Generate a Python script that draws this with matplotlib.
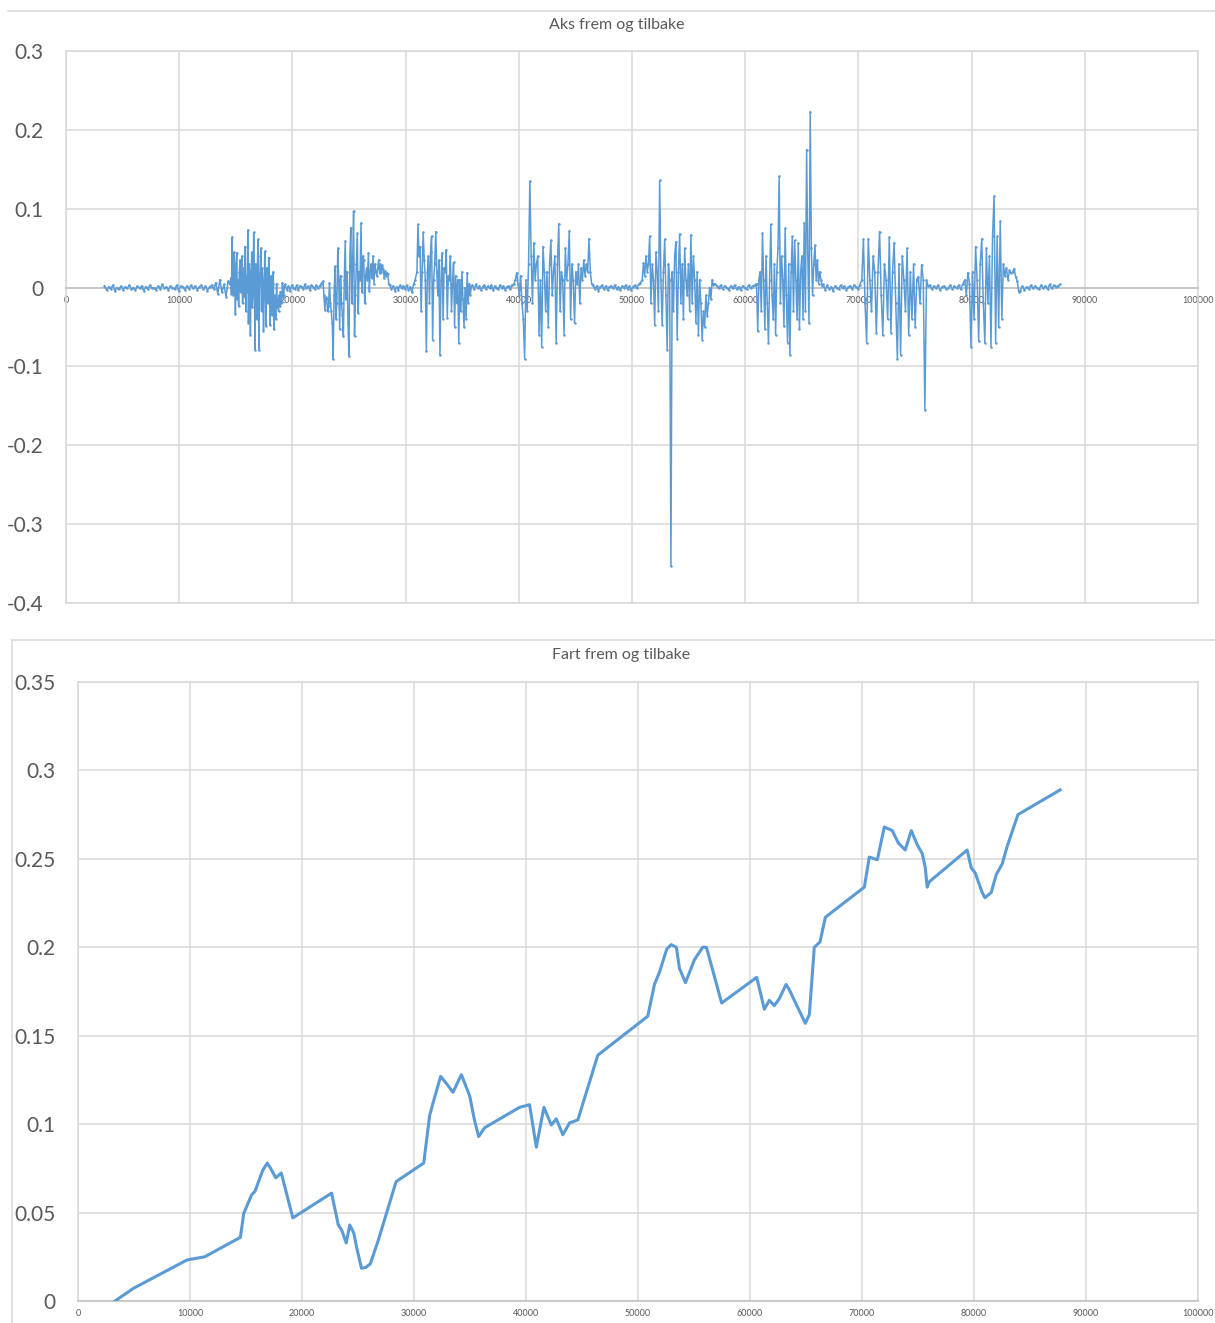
import numpy as np
import matplotlib
matplotlib.use("Agg")
import matplotlib.pyplot as plt
from matplotlib.lines import Line2D

# ---------------------------------------------------------------
# Acceleration (forward / backward), recorded in segments:
# each segment is (start time, end time) with its samples in order.
# ---------------------------------------------------------------
rest1_span = (3400, 14500)
rest1_acc = [0.002, -0.003, 0.001, -0.002, 0.003, -0.004, 0.000, -0.002, 0.002, -0.003,
             0.001, -0.001, 0.003, -0.002, 0.000, -0.003, 0.002, -0.001, 0.002, -0.004,
             0.001, -0.002, 0.003, -0.001, 0.000, -0.003, 0.002, -0.002, 0.004, -0.001,
             0.001, -0.003, 0.002, 0.000, -0.002, 0.003, -0.004, 0.002, 0.001, -0.003,
             0.002, -0.002, 0.003, -0.001, 0.002, -0.003, 0.001, 0.003, -0.002, 0.002,
             -0.004, 0.001, 0.003, -0.002, 0.006, -0.008, 0.010, -0.006, 0.004, -0.012,
             0.008]

push1_span = (14500, 19350)
push1_acc = [0.004, 0.012, -0.008, 0.064, 0.020, -0.010, 0.045, 0.030, -0.034, 0.010,
             0.044, -0.015, 0.010, -0.024, 0.020, 0.035, -0.006, 0.025, 0.040, -0.020,
             0.005, 0.025, -0.012, 0.052, -0.030, 0.015, -0.005, 0.073, -0.045, 0.030,
             0.020, -0.060, 0.010, 0.045, -0.025, -0.010, 0.070, 0.015, -0.079, 0.030,
             -0.020, -0.040, 0.040, 0.061, -0.079, 0.005, 0.020, 0.050, -0.030, 0.025,
             0.010, -0.055, -0.015, 0.046, 0.010, -0.049, 0.025, -0.005, -0.020, 0.038,
             0.010, -0.047, -0.020, 0.015, -0.035, 0.005, 0.020, -0.053, -0.010, -0.030,
             -0.040, 0.005, -0.025, -0.015, -0.030, -0.010, -0.024, -0.005, -0.020, -0.018,
             0.006, -0.012, -0.010, 0.002]

rest2_span = (19350, 22700)
rest2_acc = [0.004, -0.003, 0.002, -0.004, 0.003, 0.000, -0.002, 0.003, -0.003, 0.002,
             0.001, -0.002, 0.004, -0.001, 0.002, -0.003, 0.003, 0.001, -0.002, 0.003,
             -0.001, 0.002, 0.005]

push2_span = (22700, 28600)
push2_acc = [0.008, -0.010, -0.028, -0.012, -0.015, -0.030, -0.024, 0.006, -0.020, -0.030,
             -0.045, -0.091, -0.010, 0.027, -0.040, -0.020, 0.050, 0.010, -0.053, 0.015,
             -0.020, -0.035, -0.062, 0.010, 0.059, -0.015, 0.020, -0.045, -0.087, 0.040,
             0.076, -0.020, 0.030, 0.097, -0.062, -0.010, 0.030, 0.069, -0.032, 0.020,
             0.010, 0.082, -0.006, 0.040, 0.035, -0.020, 0.015, 0.025, 0.010, 0.044,
             -0.004, 0.020, 0.030, 0.012, 0.040, 0.005, 0.030, 0.020, 0.015, 0.025,
             0.035, 0.018, 0.030, 0.020, 0.028, 0.023, 0.012, 0.021, 0.015, 0.019,
             0.017, 0.004]

rest3_span = (28600, 31000)
rest3_acc = [0.003, -0.002, 0.002, -0.004, 0.001, -0.003, 0.003, -0.001, 0.002, -0.002,
             0.003, -0.003, 0.001, -0.006, 0.004, 0.010]

push3_span = (31000, 35900)
push3_acc = [0.020, 0.080, 0.040, 0.052, -0.030, 0.020, 0.070, 0.035, 0.010, -0.081,
             0.020, 0.040, -0.020, 0.045, 0.065, -0.066, 0.010, 0.030, 0.071, 0.020,
             -0.010, 0.035, -0.086, 0.010, 0.044, -0.040, 0.025, 0.020, 0.048, -0.038,
             0.015, 0.010, 0.040, -0.030, 0.005, 0.032, -0.050, 0.015, -0.020, 0.010,
             -0.070, 0.010, -0.030, 0.020, -0.015, -0.050, 0.000, -0.040, 0.019, -0.020,
             0.005, -0.010, 0.002]

rest4_span = (35900, 39700)
rest4_acc = [0.003, -0.002, 0.004, -0.001, 0.002, -0.003, 0.001, 0.003, -0.002, 0.002,
             -0.001, 0.003, -0.003, 0.002, 0.000, -0.002, 0.003, -0.001, 0.002, -0.003,
             0.001, 0.002, -0.002, 0.003, 0.004]

push4_span = (39700, 46550)
push4_acc = [0.010, 0.019, 0.005, -0.010, 0.015, -0.020, -0.040, -0.090, 0.010, -0.030,
             0.030, 0.135, 0.040, -0.020, 0.057, 0.010, 0.030, 0.040, -0.060, 0.010,
             -0.075, 0.052, 0.020, -0.030, 0.020, -0.050, 0.030, 0.060, -0.010, 0.020,
             0.040, -0.070, 0.030, 0.081, -0.030, 0.020, 0.010, -0.060, 0.050, 0.010,
             0.030, 0.072, -0.040, 0.030, 0.010, -0.045, 0.020, 0.005, 0.030, -0.020,
             0.025, 0.010, 0.035, 0.015, 0.030, 0.020, 0.062, 0.020, 0.005]

rest5_span = (46550, 50900)
rest5_acc = [0.003, -0.002, 0.002, -0.004, 0.001, 0.003, -0.002, 0.002, -0.003, 0.001,
             0.002, -0.001, 0.003, -0.002, 0.001, -0.003, 0.002, 0.000, 0.003, -0.002,
             0.002, -0.003, 0.001, 0.003, -0.001, 0.004, 0.006]

push5_span = (50900, 57300)
push5_acc = [0.010, 0.031, 0.015, 0.040, 0.020, 0.030, 0.065, -0.020, 0.030, 0.010,
             -0.047, 0.045, 0.020, -0.030, 0.136, 0.010, -0.047, 0.020, 0.061, -0.010,
             -0.079, 0.030, 0.010, -0.353, 0.020, -0.030, 0.040, 0.058, -0.065, 0.020,
             0.068, -0.020, 0.030, -0.040, 0.050, 0.010, -0.010, 0.030, -0.030, 0.067,
             -0.020, 0.040, 0.010, -0.045, 0.020, -0.060, 0.010, -0.020, -0.066, -0.030,
             -0.050, -0.010, -0.036, -0.020, 0.000, -0.015, 0.010, 0.003]

rest6_span = (57300, 61000)
rest6_acc = [0.005, 0.002, -0.001, 0.003, -0.002, 0.002, 0.000, -0.003, 0.002, -0.001,
             0.003, -0.002, 0.001, -0.003, 0.002, 0.000, -0.002, 0.003, -0.001, 0.002,
             0.003]

push6_span = (61000, 66900)
push6_acc = [0.005, -0.055, 0.010, 0.020, -0.030, 0.069, 0.010, -0.053, 0.040, -0.020,
             -0.070, 0.010, 0.080, -0.010, -0.040, 0.030, -0.060, 0.020, 0.050, 0.141,
             -0.020, 0.040, 0.010, -0.049, 0.075, -0.010, -0.070, 0.030, -0.085, 0.020,
             0.065, -0.030, 0.060, 0.010, -0.040, 0.057, -0.053, 0.020, 0.040, -0.040,
             0.082, -0.030, 0.175, 0.040, -0.045, 0.223, 0.050, -0.010, 0.030, 0.054,
             0.010, 0.035, 0.005, 0.020, 0.010, 0.002]

rest7_span = (66900, 70300)
rest7_acc = [0.004, -0.003, 0.003, -0.002, 0.001, -0.004, 0.002, 0.000, -0.002, 0.003,
             -0.001, 0.002, -0.003, 0.001, 0.002, -0.002, 0.003, 0.001, -0.002, 0.003]

push7_span = (70300, 76300)
push7_acc = [0.010, 0.061, -0.020, -0.070, 0.062, 0.010, -0.030, 0.040, 0.020, -0.058,
             0.020, 0.071, -0.010, -0.060, 0.030, 0.010, -0.040, 0.064, -0.057, 0.020,
             0.057, -0.020, -0.091, 0.030, -0.085, 0.040, 0.010, -0.030, 0.050, -0.060,
             0.020, -0.040, 0.030, -0.050, 0.010, 0.014, -0.020, 0.029, 0.010, -0.155,
             0.010, 0.002]

rest8_span = (76300, 79400)
rest8_acc = [0.003, -0.002, 0.002, -0.001, 0.003, -0.003, 0.001, 0.002, -0.002, 0.000,
             0.003, -0.002, 0.002, -0.001, 0.003, -0.002, 0.004]

push8_span = (79400, 84300)
push8_acc = [0.010, -0.010, 0.019, 0.005, -0.075, 0.020, -0.040, 0.052, 0.010, -0.068,
             0.030, 0.062, -0.020, -0.070, 0.050, -0.020, 0.040, -0.075, 0.065, 0.116,
             -0.070, 0.065, -0.050, 0.084, -0.040, 0.030, 0.015, 0.025, 0.010, 0.022,
             0.018, 0.020, 0.024, 0.014, 0.008, -0.005]

rest9_span = (84300, 88000)
rest9_acc = [-0.004, 0.002, -0.003, 0.001, -0.002, 0.003, -0.001, 0.002, 0.000, -0.002,
             0.003, -0.001, 0.002, -0.002, 0.004, -0.001, 0.003, 0.001, 0.002, 0.004]

acc_segments = [
    (rest1_span, rest1_acc), (push1_span, push1_acc),
    (rest2_span, rest2_acc), (push2_span, push2_acc),
    (rest3_span, rest3_acc), (push3_span, push3_acc),
    (rest4_span, rest4_acc), (push4_span, push4_acc),
    (rest5_span, rest5_acc), (push5_span, push5_acc),
    (rest6_span, rest6_acc), (push6_span, push6_acc),
    (rest7_span, rest7_acc), (push7_span, push7_acc),
    (rest8_span, rest8_acc), (push8_span, push8_acc),
    (rest9_span, rest9_acc),
]

# ---------------------------------------------------------------
# Velocity (forward / backward)
# ---------------------------------------------------------------
vel_t = [3300, 4960, 9730, 11320, 14500, 14800, 15500, 15800, 16500, 16900,
         17200, 17660, 18150, 19180, 22640, 23240, 23550, 23950, 24260, 24620,
         24890, 25310, 25690, 26100, 26820, 28400, 30870, 31400, 31700, 32380,
         32890, 33480, 34230, 34970, 35410, 35770, 36310, 39430, 40320, 40920,
         41600, 42260, 42700, 43290, 43890, 44630, 46410, 50870, 51470, 51920,
         52570, 52960, 53430, 53700, 54240, 55040, 55780, 56110, 57470, 60600,
         61280, 61730, 62170, 62620, 63220, 63510, 63960, 64940, 65300, 65740,
         66250, 66730, 70210, 70650, 71370, 71990, 72700, 73240, 73860, 74400,
         74930, 75380, 75650, 75820, 76000, 79390, 79750, 80110, 80730, 80970,
         81540, 81980, 82510, 82960, 83920, 87690]
vel_v = [0.0, 0.0072, 0.0232, 0.025, 0.036, 0.0496, 0.060, 0.062, 0.074, 0.078,
         0.075, 0.0696, 0.0724, 0.047, 0.061, 0.043, 0.040, 0.0328, 0.043, 0.0385,
         0.030, 0.0185, 0.019, 0.021, 0.0345, 0.0675, 0.078, 0.105, 0.112, 0.127,
         0.123, 0.118, 0.128, 0.116, 0.102, 0.093, 0.098, 0.1095, 0.111, 0.087,
         0.1095, 0.0995, 0.103, 0.094, 0.1007, 0.1024, 0.139, 0.161, 0.179, 0.186,
         0.199, 0.2015, 0.200, 0.188, 0.180, 0.193, 0.200, 0.200, 0.1685, 0.183,
         0.165, 0.170, 0.167, 0.171, 0.179, 0.176, 0.170, 0.157, 0.162, 0.200,
         0.203, 0.217, 0.234, 0.251, 0.2495, 0.268, 0.266, 0.259, 0.255, 0.266,
         0.258, 0.253, 0.245, 0.234, 0.237, 0.255, 0.245, 0.242, 0.231, 0.228,
         0.231, 0.241, 0.247, 0.257, 0.275, 0.289]

acc_title = "Aks frem og tilbake"
vel_title = "Fart frem og tilbake"
x_ticks = list(range(0, 100001, 10000))
acc_ticks = [-0.4, -0.3, -0.2, -0.1, 0.0, 0.1, 0.2, 0.3]
vel_ticks = [0.0, 0.05, 0.1, 0.15, 0.2, 0.25, 0.3, 0.35]

# ---------------------------------------------------------------
W, H = 1215, 1323
plt.rcParams['font.family'] = ['Lato', 'DejaVu Sans']
fig = plt.figure(figsize=(W / 100, H / 100), dpi=100)

BLUE = '#5b9bd5'
GRID = '#d9d9d9'
AXIS = '#bfbfbf'
TEXT = '#595959'


def fmt(v):
    v = round(v, 4)
    return '0' if v == 0 else f'{v:g}'


def style_axes(ax, yticks, ylabel_pad, xlabel_pad):
    ax.set_xlim(0, 100000)
    ax.set_ylim(yticks[0], yticks[-1])
    ax.set_xticks(x_ticks)
    ax.set_xticklabels([str(t) for t in x_ticks])
    ax.set_yticks(yticks)
    ax.set_yticklabels([fmt(t) for t in yticks])
    ax.grid(True, color=GRID, linewidth=1.1)
    ax.set_axisbelow(True)
    for s in ('top', 'right', 'left'):
        ax.spines[s].set_color(GRID)
        ax.spines[s].set_linewidth(1.1)
    ax.tick_params(axis='both', length=0, colors=TEXT)
    ax.tick_params(axis='y', labelsize=15, pad=ylabel_pad)
    ax.tick_params(axis='x', labelsize=6.5, pad=xlabel_pad)


# ---- acceleration chart ----
ax1 = fig.add_axes([66 / W, 1 - 603 / H, (1198 - 66) / W, (603 - 51) / H])
acc_t, acc_a = [], []
for (t0, t1), vals in acc_segments:
    acc_t.extend(np.linspace(t0, t1, len(vals), endpoint=False))
    acc_a.extend(vals)
style_axes(ax1, acc_ticks, 16.5, 6)
ax1.spines['bottom'].set_position(('data', 0))
ax1.spines['bottom'].set_color(AXIS)
ax1.spines['bottom'].set_linewidth(1.1)
ax1.axhline(acc_ticks[0], color=GRID, linewidth=1.1, clip_on=False, zorder=0.5)
ax1.plot(acc_t, acc_a, color=BLUE, linewidth=1.1, marker='o', markersize=1.8,
         markeredgewidth=0, zorder=3)

# ---- velocity chart ----
ax2 = fig.add_axes([78 / W, 1 - 1301 / H, 1120 / W, 619 / H])
style_axes(ax2, vel_ticks, 16, 6)
ax2.spines['bottom'].set_color(AXIS)
ax2.spines['bottom'].set_linewidth(1.1)
ax2.plot(vel_t, vel_v, color=BLUE, linewidth=2.2, zorder=3, solid_joinstyle='round')

# ---- titles and chart frames ----
fig.text(617 / W, 1 - 25 / H, acc_title, ha='center', va='center', fontsize=11.5, color=TEXT)
fig.text(621 / W, 1 - 655 / H, vel_title, ha='center', va='center', fontsize=11.5, color=TEXT)
fig.add_artist(Line2D([8 / W, 1], [1 - 11 / H] * 2, color=GRID, linewidth=1.1))
fig.add_artist(Line2D([12 / W, 1], [1 - 640 / H] * 2, color=GRID, linewidth=1.1))
fig.add_artist(Line2D([12 / W] * 2, [0, 1 - 640 / H], color=GRID, linewidth=1.1))

fig.savefig('out.png', dpi=100)
